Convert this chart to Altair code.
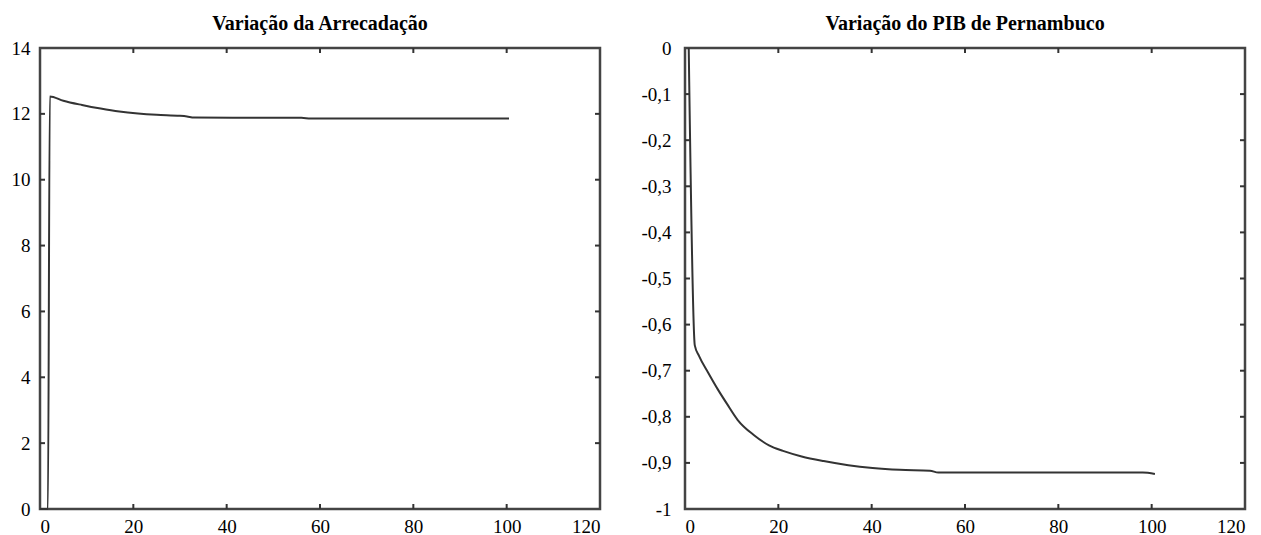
import altair as alt
import pandas as pd

# Left panel: Variação da Arrecadação
arr_x = [0, 1.7, 2.1, 5, 9, 13, 17, 21, 25, 30, 31.5, 33, 45, 56, 58, 80, 100.5]
arr_y = [0, 0, 12.53, 12.40, 12.27, 12.16, 12.07, 12.01, 11.97, 11.94, 11.92, 11.89, 11.88, 11.88, 11.86, 11.86, 11.86]

# Right panel: Variação do PIB de Pernambuco
pib_x = [0.8, 2.1, 3, 5, 7, 9, 11.3, 14.8, 18, 21, 25, 29.7, 35, 40.2, 46, 52.5, 54.3, 70, 85, 98.1, 100.7]
pib_y = [0, -0.645, -0.668, -0.705, -0.74, -0.772, -0.807, -0.840, -0.862, -0.874, -0.886, -0.896,
         -0.905, -0.911, -0.915, -0.917, -0.921, -0.921, -0.921, -0.921, -0.924]

x_ticks = [0, 20, 40, 60, 80, 100, 120]
arr_ticks = [0, 2, 4, 6, 8, 10, 12, 14]
pib_ticks = [0, -0.1, -0.2, -0.3, -0.4, -0.5, -0.6, -0.7, -0.8, -0.9, -1]

W, H = 560, 461
TL = 5
FONT = "Liberation Serif"
LINE = "#333333"
label_expr = "replace(toString(datum.value), '.', ',')"


def panel(title, xs, ys, yticks, ydomain, ypad):
    df = pd.DataFrame({"x": xs, "y": ys})
    xscale = alt.Scale(domain=[0, 120], nice=False, zero=False)
    yscale = alt.Scale(domain=ydomain, nice=False, zero=False)
    common = dict(title=None, labelExpr=label_expr, labelFont=FONT, labelFontSize=19,
                  labelColor="black", domain=False, ticks=False, grid=False)
    xaxis = alt.Axis(values=x_ticks, labelPadding=8, **common)
    yaxis = alt.Axis(values=yticks, labelPadding=ypad, **common)
    line = alt.Chart(df).mark_line(color=LINE, strokeWidth=2, interpolate="monotone").encode(
        x=alt.X("x:Q", scale=xscale, axis=xaxis),
        y=alt.Y("y:Q", scale=yscale, axis=yaxis),
    )
    xt = pd.DataFrame({"x": x_ticks[1:-1]})
    yt = pd.DataFrame({"y": yticks[1:-1]})
    tb = alt.Chart(xt).mark_rule(color=LINE, strokeWidth=2).encode(
        x=alt.X("x:Q", scale=xscale, axis=xaxis), y=alt.value(H), y2=alt.value(H - TL))
    tt = alt.Chart(xt).mark_rule(color=LINE, strokeWidth=2).encode(
        x=alt.X("x:Q", scale=xscale, axis=xaxis), y=alt.value(0), y2=alt.value(TL))
    tl = alt.Chart(yt).mark_rule(color=LINE, strokeWidth=2).encode(
        y=alt.Y("y:Q", scale=yscale, axis=yaxis), x=alt.value(0), x2=alt.value(TL))
    tr = alt.Chart(yt).mark_rule(color=LINE, strokeWidth=2).encode(
        y=alt.Y("y:Q", scale=yscale, axis=yaxis), x=alt.value(W - TL), x2=alt.value(W))
    return alt.layer(line, tb, tt, tl, tr).properties(
        width=W, height=H,
        title=alt.TitleParams(title, font=FONT, fontSize=20, fontWeight="bold",
                              color="black", offset=5),
    )


left = panel("Variação da Arrecadação", arr_x, arr_y, arr_ticks, [0, 14], 10)
right = panel("Variação do PIB de Pernambuco", pib_x, pib_y, pib_ticks, [-1, 0], 14)

chart = alt.hconcat(left, right, spacing=36).properties(
    padding={"left": 1, "top": 4, "right": 0, "bottom": 0},
    background="white",
).configure_view(
    stroke="#444444", strokeWidth=2.5
)

chart.save("out.html", embed_options={"renderer": "svg", "actions": False})
